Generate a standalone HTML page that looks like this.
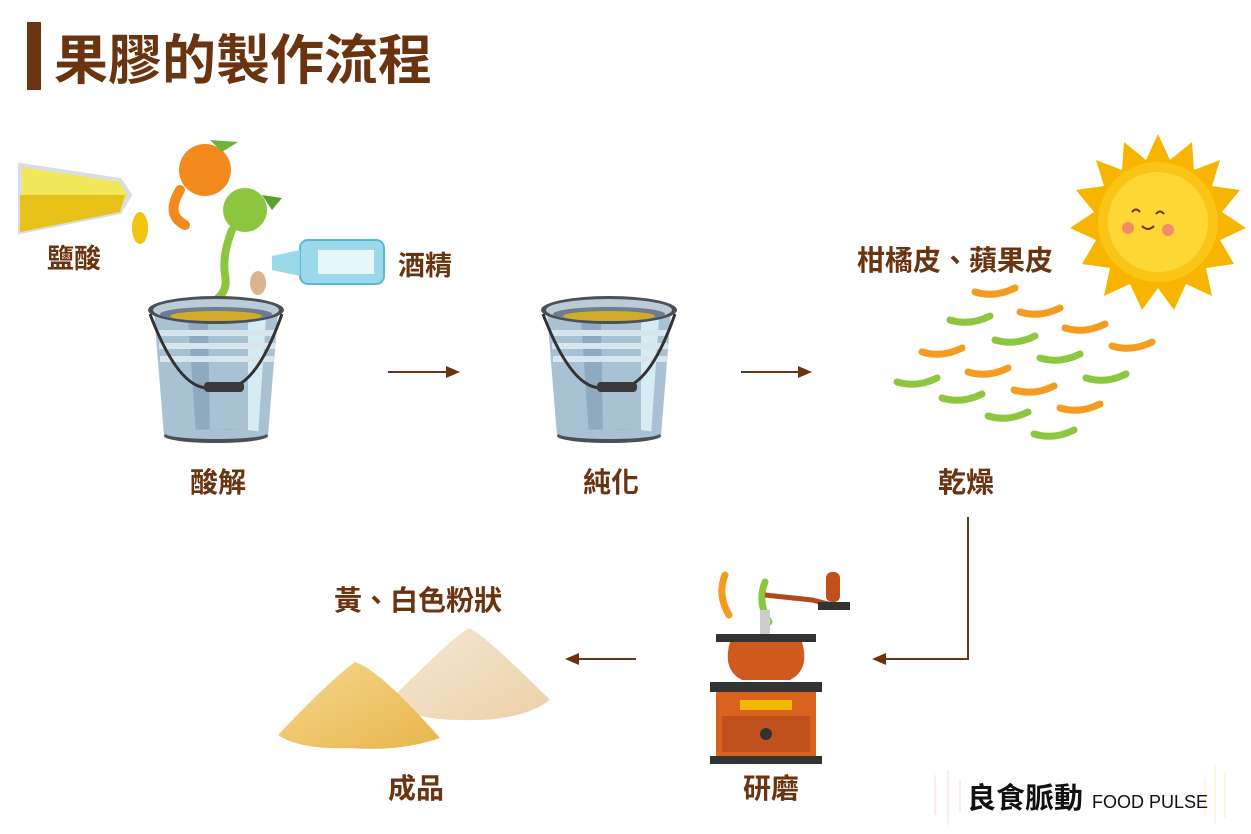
<!DOCTYPE html>
<html><head><meta charset="utf-8"><style>
body{margin:0;background:#fff;width:1251px;height:834px;overflow:hidden}
svg{display:block}
text{font-family:"Liberation Sans","Noto Sans CJK TC",sans-serif;font-weight:bold;fill:#6b3410}
</style></head><body>
<svg width="1251" height="834" viewBox="0 0 1251 834" xmlns="http://www.w3.org/2000/svg">
<defs>
<g id="bucket">
 <path d="M6,24 L130,24 L120,148 L16,148 Z" fill="#a9c2d3"/>
 <path d="M40,30 L60,30 L62,148 L48,148 Z" fill="#8fa9bf"/>
 <path d="M100,30 L118,30 L110,148 L100,148 Z" fill="#d6ecf5"/>
 <rect x="10" y="42" width="118" height="6" fill="#d7e6ee"/>
 <rect x="11" y="55" width="116" height="6" fill="#d7e6ee"/>
 <rect x="12" y="68" width="114" height="6" fill="#d7e6ee"/>
 <ellipse cx="68" cy="148" rx="52" ry="7" fill="#4a4f58"/>
 <ellipse cx="68" cy="146" rx="50" ry="5" fill="#a9c2d3"/>
 <ellipse cx="68" cy="22" rx="68" ry="14" fill="#4a4f58"/>
 <ellipse cx="68" cy="22" rx="63" ry="11" fill="#bccbd6"/>
 <ellipse cx="68" cy="26" rx="56" ry="7" fill="#6d7d90"/>
 <ellipse cx="68" cy="28" rx="46" ry="5" fill="#d2ac28"/>
 <path d="M2,26 Q30,100 60,100 L78,100 Q108,100 134,26" fill="none" stroke="#333" stroke-width="3"/>
 <rect x="56" y="94" width="40" height="10" rx="4" fill="#3a3a3a"/>
</g>
<linearGradient id="p1" x1="0" y1="0" x2="1" y2="1"><stop offset="0" stop-color="#f5d690"/><stop offset="1" stop-color="#e8b64a"/></linearGradient>
<linearGradient id="p2" x1="0" y1="0" x2="1" y2="1"><stop offset="0" stop-color="#f4e8d6"/><stop offset="1" stop-color="#ecd0a6"/></linearGradient>
</defs>

<rect x="27" y="22" width="14" height="68" fill="#6b3410"/>
<text x="54" y="79" font-size="54" fill="#6b3410">果膠的製作流程</text>

<!-- flask -->
<path d="M20,165 L20,232 L120,212 L130,195 L120,180 Z" fill="#f0e85a" stroke="#d8dde0" stroke-width="4"/>
<path d="M20,195 L125,195 L120,212 L20,232 Z" fill="#e8c21a"/>
<ellipse cx="140" cy="228" rx="8" ry="16" fill="#f1c40f"/>
<text x="47" y="268" font-size="27">鹽酸</text>

<!-- fruits -->
<circle cx="205" cy="170" r="26" fill="#f28a1e"/>
<path d="M210,140 L238,142 L222,152 Z" fill="#6fb33a"/>
<path d="M180,190 Q165,215 185,225" fill="none" stroke="#f28a1e" stroke-width="10" stroke-linecap="round"/>
<circle cx="245" cy="210" r="22" fill="#8cc63f"/>
<path d="M262,195 L282,198 L272,210 Z" fill="#5aa02c"/>
<path d="M232,230 Q222,255 225,275 Q228,290 218,298" fill="none" stroke="#8cc63f" stroke-width="8" stroke-linecap="round"/>
<rect x="300" y="240" width="84" height="44" rx="8" fill="#9ad8ea" stroke="#5bb8d6" stroke-width="2"/>
<rect x="318" y="250" width="56" height="24" fill="#e6f6fa"/>
<path d="M300,250 L272,256 L272,270 L300,276 Z" fill="#9ad8ea"/>
<ellipse cx="258" cy="283" rx="8" ry="12" fill="#d9b48c"/>
<text x="398" y="275" font-size="27">酒精</text>

<use href="#bucket" x="148" y="288"/>
<text x="190" y="492" font-size="28">酸解</text>
<use href="#bucket" x="541" y="288"/>
<text x="583" y="492" font-size="28">純化</text>

<g stroke="#6b3410" stroke-width="2" fill="#6b3410">
 <line x1="388" y1="372" x2="448" y2="372"/><path d="M460,372 L446,366 L446,378 Z" stroke="none"/>
 <line x1="741" y1="372" x2="800" y2="372"/><path d="M812,372 L798,366 L798,378 Z" stroke="none"/>
 <polyline points="968,517 968,659 885,659" fill="none"/><path d="M872,659 L886,653 L886,665 Z" stroke="none"/>
 <line x1="636" y1="659" x2="578" y2="659"/><path d="M565,659 L579,653 L579,665 Z" stroke="none"/>
</g>

<g transform="translate(1158,222)">
 <polygon fill="#f7b500" points="0,-88 12,-62 34,-80 36,-52 62,-62 54,-36 82,-32 64,-10 88,6 62,18 76,42 48,46 54,74 28,62 16,88 0,66 -16,88 -28,62 -54,74 -48,46 -76,42 -62,18 -88,6 -64,-10 -82,-32 -54,-36 -62,-62 -36,-52 -34,-80 -12,-62"/>
 <circle r="60" fill="#fbc518"/>
 <circle r="50" fill="#fdd736"/>
 <circle cx="-30" cy="6" r="6" fill="#f58a6a"/><circle cx="10" cy="8" r="6" fill="#f58a6a"/>
 <path d="M-26,-10 q4,-5 8,0 M-2,-8 q4,-5 8,0" stroke="#6b3410" stroke-width="2" fill="none"/>
 <path d="M-16,4 q6,6 12,0" stroke="#6b3410" stroke-width="2" fill="none"/>
</g>
<text x="857" y="270" font-size="28">柑橘皮、蘋果皮</text>
<g fill="none" stroke-width="7" stroke-linecap="round">
 <path d="M975,292 q20,6 40,-4" stroke="#f39c1f"/>
 <path d="M1020,312 q20,6 40,-4" stroke="#f39c1f"/>
 <path d="M950,320 q20,6 40,-4" stroke="#8dc63f"/>
 <path d="M1065,328 q20,6 40,-4" stroke="#f39c1f"/>
 <path d="M995,340 q20,6 40,-4" stroke="#8dc63f"/>
 <path d="M1112,346 q20,6 40,-4" stroke="#f39c1f"/>
 <path d="M922,352 q20,6 40,-4" stroke="#f39c1f"/>
 <path d="M1040,358 q20,6 40,-4" stroke="#8dc63f"/>
 <path d="M968,372 q20,6 40,-4" stroke="#f39c1f"/>
 <path d="M1086,378 q20,6 40,-4" stroke="#8dc63f"/>
 <path d="M897,382 q20,6 40,-4" stroke="#8dc63f"/>
 <path d="M1014,390 q20,6 40,-4" stroke="#f39c1f"/>
 <path d="M942,398 q20,6 40,-4" stroke="#8dc63f"/>
 <path d="M1060,408 q20,6 40,-4" stroke="#f39c1f"/>
 <path d="M988,416 q20,6 40,-4" stroke="#8dc63f"/>
 <path d="M1034,434 q20,6 40,-4" stroke="#8dc63f"/>
</g>
<text x="938" y="492" font-size="28">乾燥</text>

<path d="M725,575 q-8,20 4,40" stroke="#f39c1f" stroke-width="7" fill="none" stroke-linecap="round"/>
<path d="M765,582 q-8,20 4,40" stroke="#8dc63f" stroke-width="7" fill="none" stroke-linecap="round"/>
<rect x="760" y="610" width="10" height="28" fill="#ccc"/>
<path d="M765,595 L812,600 L832,605" stroke="#b04a1a" stroke-width="5" fill="none"/>
<rect x="826" y="572" width="14" height="30" rx="6" fill="#c0501c"/>
<rect x="818" y="602" width="32" height="8" fill="#333"/>
<rect x="716" y="634" width="100" height="8" fill="#333"/>
<path d="M730,642 L802,642 Q810,670 790,680 L742,680 Q722,670 730,642 Z" fill="#d05a1e"/>
<rect x="710" y="682" width="112" height="10" fill="#333"/>
<rect x="716" y="692" width="100" height="64" fill="#d9621f"/>
<rect x="722" y="716" width="88" height="36" fill="#c0501c"/>
<rect x="740" y="700" width="52" height="10" fill="#f5b800"/>
<circle cx="766" cy="734" r="6" fill="#333"/>
<rect x="710" y="756" width="112" height="8" fill="#333"/>
<text x="743" y="798" font-size="28">研磨</text>

<path d="M390,700 Q460,630 470,628 Q490,640 550,700 Q520,722 460,720 Q410,720 390,700 Z" fill="url(#p2)"/>
<path d="M278,735 Q330,680 355,662 Q380,670 440,738 Q400,752 350,748 Q300,750 278,735 Z" fill="url(#p1)"/>
<text x="334" y="610" font-size="28">黃、白色粉狀</text>
<text x="388" y="798" font-size="28">成品</text>

<g stroke-width="1" opacity="0.5">
 <line x1="935" y1="775" x2="935" y2="815" stroke="#f3b5b5"/>
 <line x1="948" y1="770" x2="948" y2="825" stroke="#f3b5b5"/>
 <line x1="960" y1="780" x2="960" y2="812" stroke="#f3b5b5"/>
 <line x1="1215" y1="765" x2="1215" y2="825" stroke="#f5e08a"/>
 <line x1="1225" y1="772" x2="1225" y2="818" stroke="#f5e08a"/>
 <line x1="1205" y1="778" x2="1205" y2="815" stroke="#f5e08a"/>
</g>
<text x="967" y="808" font-size="29" style="fill:#111">良食脈動</text>
<text x="1092" y="808" font-size="18" style="fill:#111;font-weight:normal">FOOD PULSE</text>
</svg>
</body></html>
